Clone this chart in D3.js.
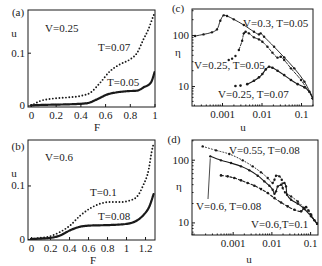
<!DOCTYPE html>
<html>
<head>
<meta charset="utf-8">
<script src="https://cdn.jsdelivr.net/npm/d3@7"></script>
<style>
body { margin: 0; background: #fff; }
svg { display: block; }
text { font-family: 'Liberation Serif', 'DejaVu Serif', serif; font-size: 11px; fill: #1a1a1a; }
.frame { fill: none; stroke: #1a1a1a; stroke-width: 1; }
.tick line { stroke: #1a1a1a; }
</style>
</head>
<body>
<script>
// (a) V=0.25
const aF07 = [0, 0.02, 0.07, 0.18, 0.29, 0.40, 0.48, 0.56, 0.64, 0.72, 0.80, 0.86, 0.91, 0.95, 0.98, 1.0];
const aU07 = [0, 0.002, 0.008, 0.013, 0.015, 0.018, 0.024, 0.043, 0.065, 0.078, 0.087, 0.1, 0.125, 0.144, 0.163, 0.175];
const aF05 = [0, 0.1, 0.2, 0.29, 0.45, 0.53, 0.62, 0.70, 0.78, 0.86, 0.91, 0.97, 1.0];
const aU05 = [0, 0.001, 0.0015, 0.002, 0.004, 0.011, 0.021, 0.025, 0.027, 0.028, 0.034, 0.043, 0.063];

// (b) V=0.6
const bF10 = [0, 0.1, 0.2, 0.3, 0.41, 0.52, 0.62, 0.73, 0.83, 0.94, 1.04, 1.11, 1.18, 1.24, 1.27, 1.29];
const bU10 = [0, 0.002, 0.005, 0.0125, 0.025, 0.044, 0.057, 0.066, 0.069, 0.069, 0.072, 0.078, 0.1, 0.131, 0.163, 0.178];
const bF08 = [0, 0.2, 0.3, 0.41, 0.52, 0.62, 0.83, 1.0, 1.11, 1.18, 1.25, 1.29];
const bU08 = [0, 0.002, 0.006, 0.016, 0.023, 0.025, 0.026, 0.028, 0.034, 0.044, 0.0625, 0.084];

// (c) eta vs u
const cU30 = [2.08e-4, 3.40e-4, 5.55e-4, 7.45e-4, 9.06e-4, 1.10e-3, 1.34e-3, 1.99e-3, 3.57e-3, 6.44e-3, 8.63e-3, 9.52e-3, 1.16e-2, 2.08e-2, 3.75e-2, 6.76e-2, 0.122, 0.199];
const cE30 = [95.6, 103, 113, 129, 191, 243, 236, 203, 157, 116, 103, 108, 92.8, 59.0, 36.5, 22.2, 12.2, 5.73];
const cU25a = [1.48e-3, 1.80e-3, 2.19e-3, 2.67e-3, 3.24e-3, 3.57e-3, 3.94e-3, 4.80e-3, 6.44e-3, 8.63e-3, 1.05e-2, 1.41e-2, 1.89e-2, 2.54e-2, 3.08e-2, 3.75e-2, 5.56e-2, 0.1, 0.199];
const cE25a = [32.4, 34.4, 38.7, 50.8, 77.4, 108, 116, 108, 90.0, 82.2, 74.0, 59.0, 45.1, 36.0, 37.6, 32.4, 22.2, 13.1, 5.73];
const cU25b = [2.19e-3, 2.94e-3, 4.35e-3, 6.44e-3, 8.63e-3, 1.05e-2, 1.28e-2, 1.55e-2, 1.89e-2, 2.54e-2, 3.75e-2, 5.56e-2, 8.22e-2, 0.122, 0.163, 0.199];
const cE25b = [10.0, 10.2, 10.9, 12.7, 14.8, 17.2, 21.2, 23.9, 22.9, 20.0, 16.4, 13.1, 10.9, 9.42, 7.74, 5.73];

// (d) eta vs u
const dU55 = [1.68e-4, 3.71e-4, 8.20e-4, 1.82e-3, 3.29e-3, 5.41e-3, 8.04e-3, 1.08e-2, 1.20e-2, 1.32e-2, 1.61e-2, 1.85e-2, 1.96e-2, 2.26e-2, 3.23e-2, 4.80e-2, 7.13e-2, 0.106, 0.152];
const dE55 = [163, 141, 123, 97.6, 78.3, 62.8, 51.0, 42.5, 48.0, 55.6, 54.2, 48.0, 35.3, 30.1, 26.0, 21.6, 16.9, 12.8, 9.53];
const dU60a = [2.64e-4, 4.99e-4, 9.06e-4, 1.64e-3, 2.70e-3, 4.43e-3, 6.59e-3, 8.87e-3, 1.08e-2, 1.20e-2, 1.32e-2, 1.46e-2, 1.78e-2, 2.17e-2, 2.39e-2, 2.54e-2, 3.23e-2, 4.80e-2, 7.13e-2, 0.106, 0.152];
const dE60a = [113, 97.6, 88.4, 78.3, 67.6, 55.6, 45.1, 38.5, 33.2, 28.7, 31.3, 37.5, 39.9, 42.5, 37.5, 27.6, 23.0, 19.9, 16.3, 12.5, 9.53];
const dU60b = [4.99e-4, 7.43e-4, 1.10e-3, 1.64e-3, 2.44e-3, 3.63e-3, 5.41e-3, 8.04e-3, 1.20e-2, 1.78e-2, 2.64e-2, 3.94e-2, 5.85e-2, 6.86e-2, 7.88e-2, 9.06e-2, 0.106, 0.129, 0.152];
const dE60b = [56.2, 54.2, 51.0, 46.8, 42.5, 38.5, 34.0, 29.4, 24.4, 20.8, 18.0, 15.9, 15.0, 16.9, 17.6, 15.5, 13.3, 10.8, 9.53];

// tick labels
const fTicksA = [0, 0.2, 0.4, 0.6, 0.8, 1];
const fTicksB = [0, 0.2, 0.4, 0.6, 0.8, 1, 1.2];
const uTicks = [0, 0.1];
const logUTicks = [0.001, 0.01, 0.1];
const etaTicks = [10, 100];

const zip = (xs, ys) => xs.map((x, i) => [x, ys[i]]);

const svg = d3.select('body').append('svg').attr('width', 322).attr('height', 266);

class Panel {
	constructor(cfg) {
		this.cfg = cfg;
		const [x0, y0, x1, y1] = cfg.box;
		const mk = () => cfg.log ? d3.scaleLog() : d3.scaleLinear();
		this.x = mk().domain(cfg.xDomain).range([x0, x1]);
		this.y = mk().domain(cfg.yDomain).range([y1, y0]);
		this.g = svg.append('g');

		const clipId = 'clip' + cfg.name.replace(/\W/g, '');
		this.g.append('clipPath').attr('id', clipId)
			.append('rect').attr('x', x0).attr('y', y0).attr('width', x1 - x0).attr('height', y1 - y0);
		this.plot = this.g.append('g').attr('clip-path', `url(#${clipId})`);

		// axes, ticks pointing inwards
		const xa = this.g.append('g').attr('transform', `translate(0,${y1})`)
			.call(d3.axisBottom(this.x).tickValues(cfg.xTicks).tickSize(-3).tickPadding(4).tickFormat(d => String(d)));
		const ya = this.g.append('g').attr('transform', `translate(${x0},0)`)
			.call(d3.axisLeft(this.y).tickValues(cfg.yTicks).tickSize(-3).tickPadding(3).tickFormat(d => String(d)));
		[xa, ya].forEach(a => {
			a.select('.domain').remove();
			a.selectAll('text').style('font-size', '11px').style('font-family', null).attr('fill', '#1a1a1a');
		});
		if (cfg.log) {
			const minorX = this.x.ticks().filter(d => !cfg.xTicks.includes(d));
			const minorY = this.y.ticks().filter(d => !cfg.yTicks.includes(d));
			this.g.selectAll('.mx').data(minorX).enter().append('line')
				.attr('x1', d => this.x(d)).attr('x2', d => this.x(d)).attr('y1', y1).attr('y2', y1 - 1.5)
				.attr('stroke', '#1a1a1a');
			this.g.selectAll('.my').data(minorY).enter().append('line')
				.attr('y1', d => this.y(d)).attr('y2', d => this.y(d)).attr('x1', x0).attr('x2', x0 + 1.5)
				.attr('stroke', '#1a1a1a');
		}

		this.g.append('rect').attr('class', 'frame')
			.attr('x', x0).attr('y', y0).attr('width', x1 - x0).attr('height', y1 - y0);

		this.g.append('text').attr('x', cfg.tag[0]).attr('y', cfg.tag[1]).attr('text-anchor', 'middle')
			.attr('dy', '0.35em').text(cfg.name);
		this.g.append('text').attr('x', cfg.xLabel[1]).attr('y', cfg.xLabel[2]).attr('text-anchor', 'middle')
			.attr('dy', '0.35em').text(cfg.xLabel[0]);
		this.g.append('text').attr('x', cfg.yLabel[1]).attr('y', cfg.yLabel[2]).attr('text-anchor', 'middle')
			.attr('dy', '0.35em').text(cfg.yLabel[0]);

		cfg.notes.forEach(n => {
			this.g.append('text').attr('x', n[1]).attr('y', n[2]).attr('dy', '0.35em').text(n[0]);
		});

		cfg.series.forEach(s => this.drawSeries(s));
	}
	drawSeries(s) {
		const line = d3.line()
			.x(d => this.x(d[0]))
			.y(d => this.y(d[1]))
			.curve(this.cfg.log ? d3.curveCatmullRom.alpha(0.5) : d3.curveMonotoneX);
		const linked = s.data.slice(s.loose || 0);
		this.plot.append('path')
			.datum(linked)
			.attr('d', line)
			.attr('fill', 'none')
			.attr('stroke', '#1a1a1a')
			.attr('stroke-width', s.width)
			.attr('stroke-linecap', 'round')
			.attr('stroke-dasharray', s.dash || null);
		if (s.dots) {
			this.plot.selectAll(null)
				.data(s.data)
				.enter()
				.append('circle')
				.attr('cx', d => this.x(d[0]))
				.attr('cy', d => this.y(d[1]))
				.attr('r', s.dots)
				.attr('fill', '#1a1a1a');
		}
	}
}

new Panel({
	name: '(a)', box: [28, 10, 155, 107], log: false,
	xDomain: [-0.024, 1.004], yDomain: [-0.003, 0.181],
	xTicks: fTicksA, yTicks: uTicks,
	tag: [18, 12], xLabel: ['F', 97, 127], yLabel: ['u', 14, 33],
	notes: [['V=0.25', 45, 28], ['T=0.07', 98, 47], ['T=0.05', 107, 82]],
	series: [
		{ data: zip(aF07, aU07), width: 1.9, dash: '0,3.3' },
		{ data: zip(aF05, aU05), width: 2.2, dash: '1.8,0.7' }
	]
});

new Panel({
	name: '(b)', box: [28, 140, 155, 240], log: false,
	xDomain: [-0.032, 1.305], yDomain: [-0.002, 0.185],
	xTicks: fTicksB, yTicks: uTicks,
	tag: [18, 146], xLabel: ['F', 93, 260], yLabel: ['u', 14, 173],
	notes: [['V=0.6', 45, 157], ['T=0.1', 90, 192], ['T=0.08', 98, 216]],
	series: [
		{ data: zip(bF10, bU10), width: 1.9, dash: '0,3.3' },
		{ data: zip(bF08, bU08), width: 2.2, dash: '1.8,0.7' }
	]
});

new Panel({
	name: '(c)', box: [192, 9, 313, 106], log: true,
	xDomain: [1.74e-4, 0.201], yDomain: [4.06, 324],
	xTicks: logUTicks, yTicks: etaTicks,
	tag: [178, 8], xLabel: ['u', 243, 127], yLabel: ['η', 178, 52],
	notes: [['V=0.3, T=0.05', 243, 23], ['V=0.25, T=0.05', 194, 65], ['V=0.25, T=0.07', 218, 94]],
	series: [
		{ data: zip(cU30, cE30), width: 0.9, dots: 1.2 },
		{ data: zip(cU25a, cE25a), width: 0.9, dots: 1.2, loose: 3, dash: '3,1.5' },
		{ data: zip(cU25b, cE25b), width: 1.1, dots: 1.3, loose: 2 }
	]
});

const pd = new Panel({
	name: '(d)', box: [192, 140, 318, 235], log: true,
	xDomain: [8.9e-5, 0.16], yDomain: [6.3, 206],
	xTicks: logUTicks, yTicks: etaTicks,
	tag: [174, 139], xLabel: ['u', 249, 259], yLabel: ['η', 179, 186],
	notes: [['V=0.55, T=0.08', 229, 150], ['V=0.6, T=0.08', 196, 206], ['V=0.6,T=0.1', 251, 224]],
	series: [
		{ data: zip(dU55, dE55), width: 0.9, dots: 1.2, dash: '1,2' },
		{ data: zip(dU60a, dE60a), width: 1.1, dots: 1.2 },
		{ data: zip(dU60b, dE60b), width: 1.1, dots: 1.3, dash: '2.5,2' }
	]
});

// pointer from label to the start of V=0.6, T=0.08
pd.g.append('line')
	.attr('x1', 208).attr('y1', 199)
	.attr('x2', pd.x(dU60a[0])).attr('y2', pd.y(dE60a[0]) + 2)
	.attr('stroke', '#1a1a1a').attr('stroke-width', 0.8);
</script>
</body>
</html>
